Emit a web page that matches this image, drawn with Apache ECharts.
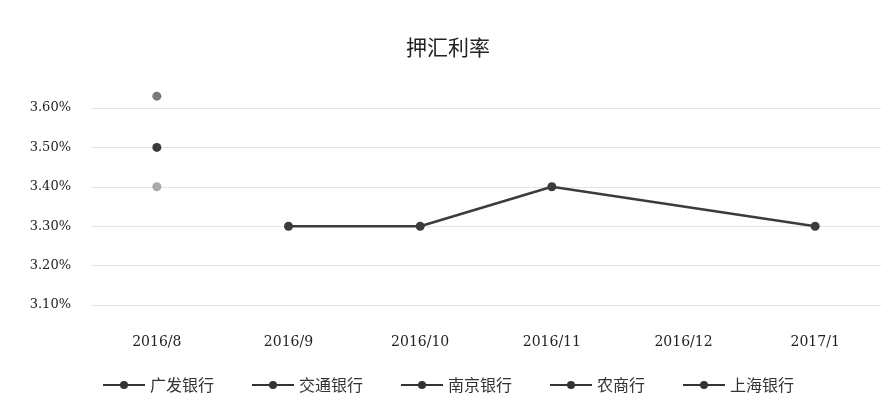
<!DOCTYPE html>
<html>
<head>
<meta charset="utf-8">
<script src="https://cdn.jsdelivr.net/npm/echarts@6/dist/echarts.min.js"></script>
<style>
  html, body { margin: 0; padding: 0; background: #fff; }
  #chart { width: 896px; height: 411px; }
</style>
</head>
<body>
<div id="chart"></div>
<script>
// 数据
const months = ['2016/8', '2016/9', '2016/10', '2016/11', '2016/12', '2017/1'];
const banks = ['广发银行', '交通银行', '南京银行', '农商行', '上海银行'];
const guangfa = [3.63, null, null, null, null, null];
const jiaotong = [3.50, null, null, null, null, null];
const nanjing = [3.40, null, null, null, null, null];
const nongshang = [null, null, null, null, null, null];
const shanghai = [null, 3.30, 3.30, 3.40, null, 3.30];
const yTicks = [3.1, 3.2, 3.3, 3.4, 3.5, 3.6];

const seriesData = [guangfa, jiaotong, nanjing, nongshang, shanghai];
const colors = ['#7a7a7a', '#3a3a3a', '#a9a9a9', '#4a4a4a', '#3c3c3c'];

const font = '"Noto Sans CJK SC", "DejaVu Sans", sans-serif';

const chart = echarts.init(document.getElementById('chart'));

const option = {
    backgroundColor: '#ffffff',
    animation: false,
    textStyle: { fontFamily: font },
    title: {
        text: '押汇利率',
        left: 'center',
        top: 32,
        textStyle: {
            fontFamily: font,
            fontSize: 21,
            fontWeight: 'normal',
            color: '#222222'
        }
    },
    legend: {
        bottom: 13,
        left: 'center',
        itemGap: 37,
        itemWidth: 42,
        itemHeight: 10,
        // 图例标记在原图中都偏深色
        data: banks.map(function (name) {
            return {
                name: name,
                itemStyle: { color: '#333333' },
                lineStyle: { color: '#333333' }
            };
        }),
        textStyle: {
            fontFamily: font,
            fontSize: 16,
            color: '#333333'
        }
    },
    grid: {
        left: 91,
        right: 15,
        top: 108,
        bottom: 106
    },
    xAxis: {
        type: 'category',
        data: months,
        boundaryGap: true,
        axisLine: { show: false },
        axisTick: { show: false },
        axisLabel: {
            fontFamily: '"DejaVu Serif", serif',
            fontSize: 14,
            color: '#222222',
            margin: 30
        }
    },
    yAxis: {
        type: 'value',
        min: yTicks[0],
        max: yTicks[yTicks.length - 1],
        interval: 0.1,
        axisLine: { show: false },
        axisTick: { show: false },
        axisLabel: {
            fontFamily: '"DejaVu Serif", serif',
            fontSize: 13,
            color: '#222222',
            margin: 20,
            formatter: function (v) { return v.toFixed(2) + '%'; }
        },
        splitLine: {
            lineStyle: { color: '#e4e4e4', width: 1 }
        }
    },
    series: banks.map(function (name, i) {
        return {
            name: name,
            type: 'line',
            data: seriesData[i],
            connectNulls: true,
            clip: false,
            symbol: 'circle',
            symbolSize: 9,
            showAllSymbol: true,
            lineStyle: { color: colors[i], width: 2.5 },
            itemStyle: { color: colors[i] }
        };
    })
};

chart.setOption(option);
</script>
</body>
</html>
